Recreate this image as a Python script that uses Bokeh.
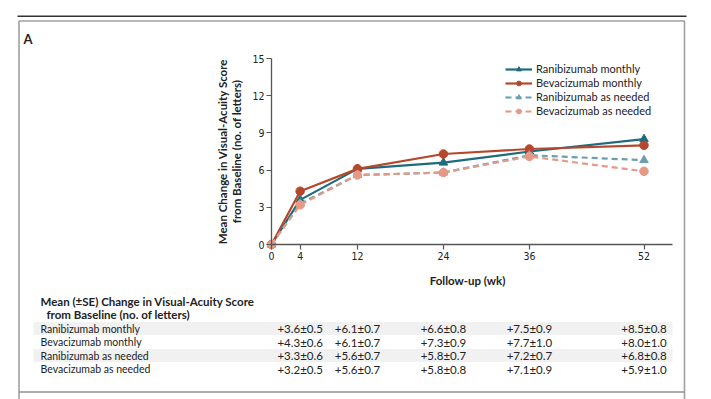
import math
from bokeh.plotting import figure
from bokeh.models import (Range1d, Label, Legend, LegendItem, FixedTicker, LinearAxis)
from bokeh.embed import file_html
from bokeh.resources import INLINE

# ---------------- data ----------------
weeks = [0, 4, 12, 24, 36, 52]
series_names = ["Ranibizumab monthly", "Bevacizumab monthly",
                "Ranibizumab as needed", "Bevacizumab as needed"]
rani_monthly = [0, 3.6, 6.1, 6.6, 7.5, 8.5]
beva_monthly = [0, 4.3, 6.1, 7.3, 7.7, 8.0]
rani_prn = [0, 3.3, 5.6, 5.8, 7.2, 6.8]
beva_prn = [0, 3.2, 5.6, 5.8, 7.1, 5.9]
rani_monthly_se = [0.5, 0.7, 0.8, 0.9, 0.8]
beva_monthly_se = [0.6, 0.7, 0.9, 1.0, 1.0]
rani_prn_se = [0.6, 0.7, 0.7, 0.7, 0.8]
beva_prn_se = [0.5, 0.7, 0.8, 0.9, 1.0]
y_ticks = [0, 3, 6, 9, 12, 15]
x_ticks = [0, 4, 12, 24, 36, 52]
x_max, y_max = 56, 15

means = [rani_monthly, beva_monthly, rani_prn, beva_prn]
ses = [rani_monthly_se, beva_monthly_se, rani_prn_se, beva_prn_se]
colors = ["#1d6b7c", "#b5482c", "#6a9fb0", "#e49a86"]
dashes = ["solid", "solid", "6 4", "6 4"]
markers = ["triangle", "circle", "triangle", "circle"]

# ---------------- geometry (page px) ----------------
W, H = 711, 399
AX_X0, AX_X52 = 271.0, 643.5      # page x of week 0 and week 52
AX_Y0, AX_Y15 = 244.0, 58.0       # page y of value 0 and value 15
kx = (AX_X52 - AX_X0) / 52.0
ky = (AX_Y0 - AX_Y15) / 15.0

# whole canvas is the frame; default ranges are page pixels (y downwards)
p = figure(width=W, height=H, output_backend="svg", toolbar_location=None,
           x_range=Range1d(0, W), y_range=Range1d(H, 0),
           x_axis_location=None, y_axis_location=None, min_border=0)
p.background_fill_color = "white"
p.border_fill_color = "white"
p.outline_line_color = None
p.grid.visible = False

# chart scales mapped onto the same canvas
p.extra_x_ranges = {"wk": Range1d((0 - AX_X0) / kx, (W - AX_X0) / kx)}
p.extra_y_ranges = {"chg": Range1d((AX_Y0 - H) / ky, AX_Y0 / ky)}

TICK_FONT = "'Liberation Sans Narrow', 'DejaVu Sans Condensed', 'Noto Sans', sans-serif"
xax = LinearAxis(x_range_name="wk", y_range_name="chg", fixed_location=0,
                 bounds=(0, x_max), ticker=FixedTicker(ticks=x_ticks))
yax = LinearAxis(x_range_name="wk", y_range_name="chg", fixed_location=0,
                 bounds=(0, y_max), ticker=FixedTicker(ticks=y_ticks))
for ax in (xax, yax):
    ax.axis_line_color = "#555555"
    ax.axis_line_width = 1.3
    ax.major_tick_line_color = "#555555"
    ax.major_tick_line_width = 1.2
    ax.major_tick_in = 0
    ax.major_tick_out = 5
    ax.minor_tick_line_color = None
    ax.major_label_text_font = TICK_FONT
    ax.major_label_text_font_size = "10.5px"
    ax.major_label_text_color = "#222222"
    ax.major_label_standoff = 2
p.add_layout(xax, "below")
p.add_layout(yax, "left")

# page decorations
p.quad(left=[33, 33], right=[672, 672], top=[321.5, 348.5], bottom=[334.5, 361.5],
       fill_color="#f1f1f1", line_color=None)
p.segment(x0=[17], y0=[15.7], x1=[686], y1=[15.7], line_color="#333333", line_width=1.6)
p.multi_line(xs=[[18.5, 18.5, 684, 684]], ys=[[H, 20.5, 20.5, H]],
             line_color="#a0a0a0", line_width=1.6)
p.segment(x0=[18.5], y0=[391.5], x1=[684], y1=[391.5], line_color="#909090", line_width=1.4)

items = []
for name, m, c, d, mk in zip(series_names, means, colors, dashes, markers):
    r1 = p.line(weeks, m, line_color=c, line_width=2.2, line_dash=d,
                x_range_name="wk", y_range_name="chg")
    r2 = p.scatter(weeks, m, marker=mk, size=8.5, fill_color=c, line_color=c,
                   x_range_name="wk", y_range_name="chg")
    items.append(LegendItem(label=name, renderers=[r1, r2]))

legend = Legend(items=items, location=(505, H - 117),
                glyph_width=27, glyph_height=12, label_height=12, spacing=1,
                label_standoff=4, padding=0, margin=0,
                border_line_color=None, background_fill_alpha=0,
                label_text_font="Lato", label_text_font_size="11px",
                label_text_color="#222222")
p.add_layout(legend, "center")

LABEL_FONT = "Lato"

def lab(x, y, text, size="11px", bold=False, align="left", angle=0.0, xr="default"):
    p.add_layout(Label(x=x, y=y, x_range_name=xr, text=text,
                       text_font=LABEL_FONT, text_font_size=size,
                       text_font_style="bold" if bold else "normal",
                       text_align=align, text_baseline="middle", angle=angle,
                       text_color="#222222"))

lab(23, 38.5, "A", size="13px", bold=True)
lab(221.5, 151, "Mean Change in Visual-Acuity Score", size="11.5px", bold=True,
    align="center", angle=math.pi / 2)
lab(235.5, 151, "from Baseline (no. of letters)", size="11.5px", bold=True,
    align="center", angle=math.pi / 2)
lab(467, 280, "Follow-up (wk)", size="11.5px", bold=True, align="center")

lab(40, 300.5, "Mean (\u00b1SE) Change in Visual-Acuity Score", size="11.5px", bold=True)
lab(46, 313.5, "from Baseline (no. of letters)", size="11.5px", bold=True)
row_y = [328, 341.5, 355, 368.5]
for name, m, s, ry in zip(series_names, means, ses, row_y):
    lab(40, ry, name, size="10.5px")
    for wk, mv, sv in zip(weeks[1:], m[1:], s):
        lab(wk, ry, f"+{mv:.1f}\u00b1{sv:.1f}", size="11.5px", align="center", xr="wk")

open("out.html", "w").write(file_html(p, INLINE))
